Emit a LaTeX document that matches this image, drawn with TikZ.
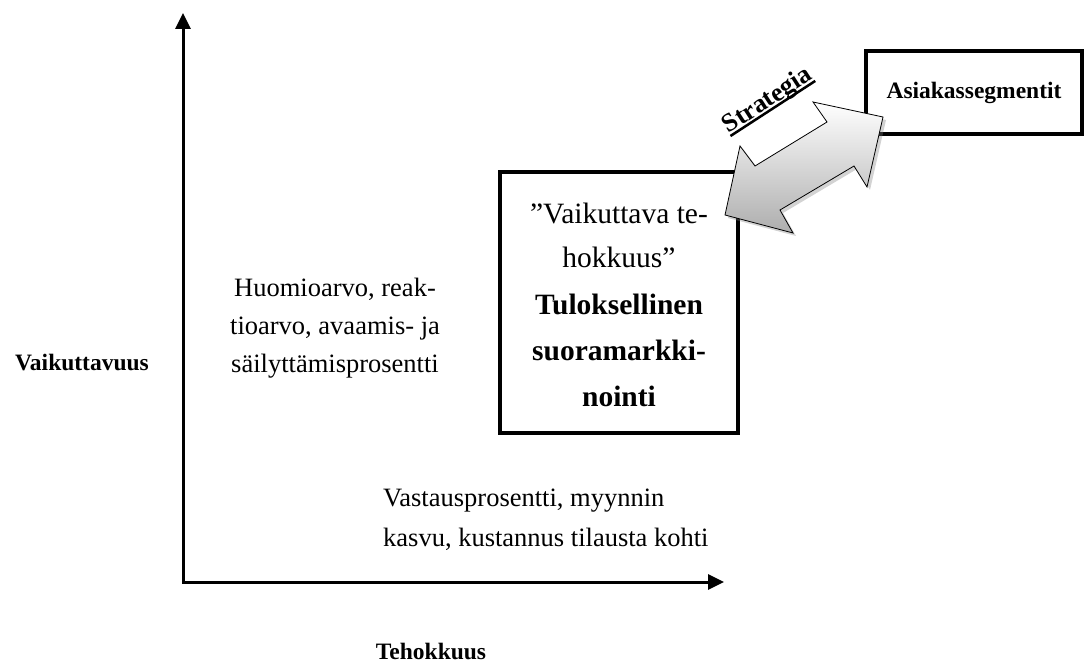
\documentclass[tikz,border=0pt]{standalone}
\usepackage{fontspec}
\setmainfont{Liberation Serif}
\usetikzlibrary{arrows.meta,shadows}
\begin{document}
\begin{tikzpicture}[x=1pt,y=-1pt,
  txt/.style={font=\fontsize{26.5}{30}\selectfont, inner sep=0pt, anchor=base},
  boxtxt/.style={font=\fontsize{29.5}{34}\selectfont, inner sep=0pt, anchor=base},
  bboxtxt/.style={font=\bfseries\fontsize{29.5}{34}\selectfont, inner sep=0pt, anchor=base},
  lab/.style={font=\bfseries\fontsize{23.5}{28}\selectfont, inner sep=0pt},
  frame/.style={draw, line width=4pt, fill=white},
  ax/.style={line width=3pt, {Triangle[width=15pt,length=16pt]}-{Triangle[width=15pt,length=16pt]}},
  blockarrow/.style={draw=black, line width=0.8pt, top color=white, bottom color=black!32,
    drop shadow={opacity=0.35, shadow xshift=3pt, shadow yshift=-3pt}}]
\useasboundingbox (0,0) rectangle (1086,668);
% axes
\coordinate (ytip) at (183,13);
\coordinate (o) at (183,582);
\coordinate (xtip) at (724,582);
\draw[ax] (ytip) -- (o) -- (xtip);
% boxes
\node[frame, minimum width=238pt, minimum height=261pt] (main) at (619,302.5) {};
\node[frame, minimum width=216pt, minimum height=83pt, lab] (seg) at (974,92.5) {Asiakassegmentit};
% box text
\node[boxtxt] (b1) at (619,224) {”Vaikuttava te-};
\node[boxtxt] (b2) at (619,268) {hokkuus”};
\node[bboxtxt] (b3) at (619,314) {Tuloksellinen};
\node[bboxtxt] (b4) at (619,360) {suoramarkki-};
\node[bboxtxt] (b5) at (619,406) {nointi};
% left text
\node[txt] (h1) at (335,296) {Huomioarvo, reak-};
\node[txt] (h2) at (335,334) {tioarvo, avaamis- ja};
\node[txt] (h3) at (335,372) {säilyttämisprosentti};
% bottom text
\node[txt, anchor=base west] (v1) at (383,506) {Vastausprosentti, myynnin};
\node[txt, anchor=base west] (v2) at (383,546) {kasvu, kustannus tilausta kohti};
% axis labels
\node[lab] (ylab) at (82,363) {Vaikuttavuus};
\node[lab, anchor=base] (xlab) at (431,659) {Tehokkuus};
% double block arrow
\path[blockarrow] (725,215) -- (740,146) -- (755,166) -- (827,122) -- (813,102)
  -- (883,117) -- (867,187) -- (854,166) -- (780,210) -- (793,233) -- cycle;
\node[lab, font=\bfseries\fontsize{26}{30}\selectfont, rotate=33] (strat) at (768,101)
  {\setbox0\hbox{Strategia}\rlap{\rule[-4pt]{\wd0}{2.5pt}}\box0};
\end{tikzpicture}
\end{document}
